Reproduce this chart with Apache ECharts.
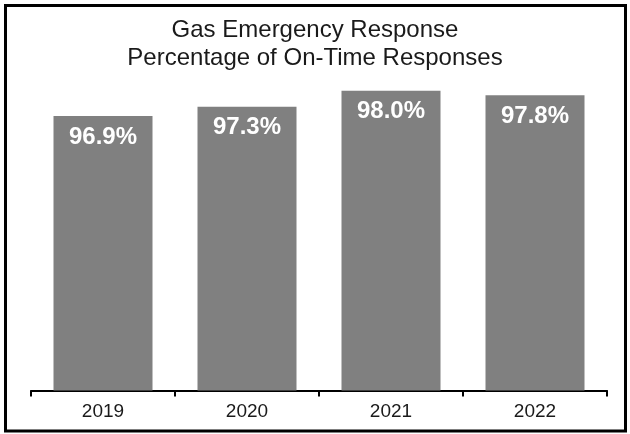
<!DOCTYPE html>
<html>
<head>
<meta charset="utf-8">
<script src="https://cdn.jsdelivr.net/npm/echarts@6/dist/echarts.min.js"></script>
<style>
  html, body { margin: 0; padding: 0; background: #fff; }
  #chart { width: 630px; height: 434px; }
</style>
</head>
<body>
<div id="chart"></div>
<script>
// Gas emergency response: share of calls answered on time, by year
const years = ['2019', '2020', '2021', '2022'];
const onTimePct = [96.9, 97.3, 98.0, 97.8];

const FONT = '"Liberation Sans", Arial, sans-serif';

const chart = echarts.init(document.getElementById('chart'));
chart.setOption({
  animation: false,
  backgroundColor: '#ffffff',
  title: {
    text: 'Gas Emergency Response\nPercentage of On-Time Responses',
    left: 'center',
    top: 11,
    textStyle: {
      fontFamily: FONT,
      fontSize: 24,
      fontWeight: 'normal',
      color: '#1a1a1a',
      lineHeight: 28
    }
  },
  graphic: [{
    type: 'rect',
    shape: { x: 5.5, y: 5.5, width: 620, height: 425.5 },
    style: { fill: 'none', stroke: '#000', lineWidth: 3 },
    silent: true
  }],
  grid: { left: 31, right: 23, top: 44.5, bottom: 43.5 },
  xAxis: {
    type: 'category',
    data: years,
    boundaryGap: true,
    axisLine: { lineStyle: { color: '#000', width: 2 } },
    axisTick: { show: true, length: 6, lineStyle: { color: '#000', width: 2 } },
    axisLabel: {
      fontFamily: FONT,
      fontSize: 19,
      color: '#1a1a1a',
      margin: 12
    }
  },
  yAxis: {
    type: 'value',
    min: 85,
    max: 100,
    show: false,
    splitLine: { show: false }
  },
  series: [{
    type: 'bar',
    data: onTimePct,
    barWidth: 99,
    itemStyle: { color: '#808080' },
    label: {
      show: true,
      position: 'insideTop',
      distance: 9,
      formatter: p => p.value.toFixed(1) + '%',
      fontFamily: FONT,
      fontSize: 24,
      fontWeight: 'bold',
      color: '#fff'
    }
  }]
});
</script>
</body>
</html>
